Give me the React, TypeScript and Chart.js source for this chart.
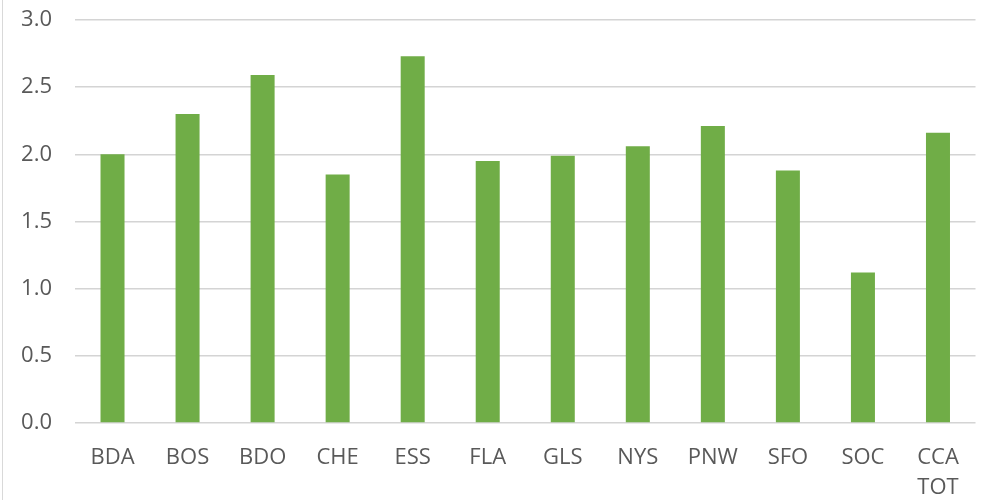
import React, { useEffect, useRef } from "react";
import { Chart, registerables } from "chart.js";

Chart.register(...registerables);

const categories: (string | string[])[] = ["BDA", "BOS", "BDO", "CHE", "ESS", "FLA", "GLS", "NYS", "PNW", "SFO", "SOC", ["CCA", "TOT"]];
const values: number[] = [2.0, 2.3, 2.59, 1.85, 2.73, 1.95, 1.99, 2.06, 2.21, 1.88, 1.12, 2.16];
const yMin = 0;
const yMax = 3.0;
const yStep = 0.5;

export default function App() {
  const ref = useRef<HTMLCanvasElement | null>(null);

  useEffect(() => {
    document.body.style.margin = "0";
    if (!ref.current) return;
    const font = { family: "'Open Sans', sans-serif", size: 22 };
    const chart = new Chart(ref.current, {
      type: "bar",
      data: {
        labels: categories,
        datasets: [
          {
            data: values,
            backgroundColor: "#70AD47",
            borderWidth: 0,
            barPercentage: 0.32,
            categoryPercentage: 1,
          },
        ],
      },
      options: {
        animation: false,
        responsive: true,
        maintainAspectRatio: false,
        layout: { padding: { left: 0, right: 9.5, top: 20, bottom: 0 } },
        plugins: { legend: { display: false }, tooltip: { enabled: false } },
        scales: {
          x: {
            grid: { display: false, drawTicks: false },
            border: { display: false },
            ticks: {
              color: "#595959",
              font: { ...font, lineHeight: 1.4 },
              padding: 19,
              maxRotation: 0,
              autoSkip: false,
            },
            afterFit: (axis: any) => {
              axis.height = 77;
              axis.paddingLeft = 0;
              axis.paddingRight = 0;
            },
          },
          y: {
            min: yMin,
            max: yMax,
            grid: { color: "#D4D4D4", lineWidth: 1.5, drawTicks: false },
            border: { display: false },
            ticks: {
              stepSize: yStep,
              color: "#595959",
              font,
              padding: 23,
              callback: (v: any) => Number(v).toFixed(1),
            },
            afterFit: (axis: any) => {
              axis.width = 75;
              axis.paddingTop = 0;
              axis.paddingBottom = 0;
            },
          },
        },
      },
    });
    return () => chart.destroy();
  }, []);

  return (
    <div style={{ position: "relative", width: 985, height: 500, background: "#fff" }}>
      <div style={{ position: "absolute", left: 2, top: 0, width: 1, height: 500, background: "#D9D9D9" }} />
      <canvas ref={ref} />
    </div>
  );
}
